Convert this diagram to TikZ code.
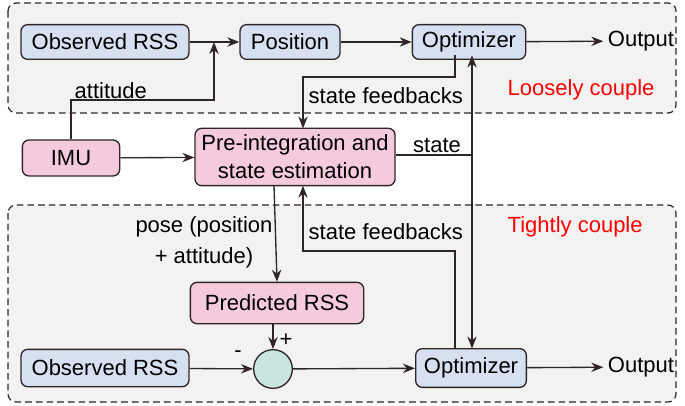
\documentclass[tikz,border=0pt]{standalone}
\usepackage{fontspec}
\setmainfont{Liberation Sans}
\usetikzlibrary{arrows.meta}
\definecolor{bl}{HTML}{D6E0F0}
\definecolor{pk}{HTML}{F5CADC}
\definecolor{tl}{HTML}{C8E6DF}
\definecolor{bg}{HTML}{F2F2F2}
\definecolor{ln}{HTML}{2E2626}
\begin{document}
\begin{tikzpicture}[x=0.75pt,y=-0.75pt,
  font=\fontsize{16.5}{18}\selectfont,
  box/.style={draw=ln,rounded corners=5pt,line width=1pt,inner sep=2pt},
  arr/.style={draw=ln,line width=1pt,-{Stealth[length=9pt,width=7pt]}},
  ln/.style={draw=ln,line width=1pt},
  reg/.style={draw=ln,dashed,dash pattern=on 5pt off 3pt,fill=bg,rounded corners=6pt,line width=0.9pt}]
\useasboundingbox (0,0) rectangle (685,406);
\draw[reg] (8,3) rectangle (676,113);
\draw[reg] (8,205) rectangle (676,402);
\node[box,fill=bl,minimum width=126pt,minimum height=26pt] (ors1) at (105,42) {Observed RSS};
\node[box,fill=bl,minimum width=75pt,minimum height=26pt] (pos) at (290,42) {Position};
\node[box,fill=bl,minimum width=85pt,minimum height=26pt] (opt1) at (469,42) {Optimizer};
\node (out1) at (641,41) {Output};
\node[box,fill=pk,minimum width=73pt,minimum height=27pt] (imu) at (71,158) {IMU};
\node[box,fill=pk,minimum width=150pt,minimum height=43pt,align=center,font=\fontsize{16.5}{21}\selectfont] (pre) at (295,157) {Pre-integration and\\state estimation};
\node[box,fill=pk,minimum width=130pt,minimum height=31pt] (prss) at (277,303) {Predicted RSS};
\node[box,fill=bl,minimum width=126pt,minimum height=28pt] (ors2) at (105,368) {Observed RSS};
\node[draw=ln,line width=1pt,circle,fill=tl,minimum size=29pt,inner sep=0pt] (sum) at (273,369) {};
\node[box,fill=bl,minimum width=83pt,minimum height=29pt] (opt2) at (471,368) {Optimizer};
\node (out2) at (641,367) {Output};
\coordinate (j1) at (214,42);
\draw[arr] (ors1) -- (pos);
\draw[arr] (imu.north) -- (71,100) -- (214,100) -- (j1);
\node[anchor=west] (att) at (70,91) {attitude};
\draw[arr] (pos) -- (opt1);
\draw[arr] (opt1) -- (out1);
\draw[arr] (455,55.5) -- (455,77) -- (303,77) -- (303,128.5);
\node[anchor=west] (sf1) at (304,96) {state feedbacks};
\draw[arr] (imu) -- (pre);
\draw[arr] (472,155) -- (472,55.5);
\draw[arr] (472,155) -- (472,348.5);
\draw[ln] (pre.east |- 0,155) -- (472,155);
\node (st) at (437,145) {state};
\draw[arr] (274,185.7) -- (prss.north);
\node[align=center,font=\fontsize{16.5}{23}\selectfont] (pose) at (204,242) {pose (position\\+ attitude)};
\draw[arr] (455,348.5) -- (455,251) -- (303,251) -- (303,185.7);
\node[anchor=west] (sf2) at (304,232) {state feedbacks};
\draw[arr] (prss.south -| sum) -- (sum);
\node (plus) at (286,340) {+};
\draw[arr] (ors2) -- (sum);
\node (minus) at (238,354) {-};
\draw[arr] (sum) -- (opt2);
\draw[arr] (opt2) -- (out2);
\node[text=red,anchor=west] (lc) at (503,90) {Loosely couple};
\node[text=red,anchor=west] (tc) at (503,227) {Tightly couple};
\end{tikzpicture}
\end{document}
